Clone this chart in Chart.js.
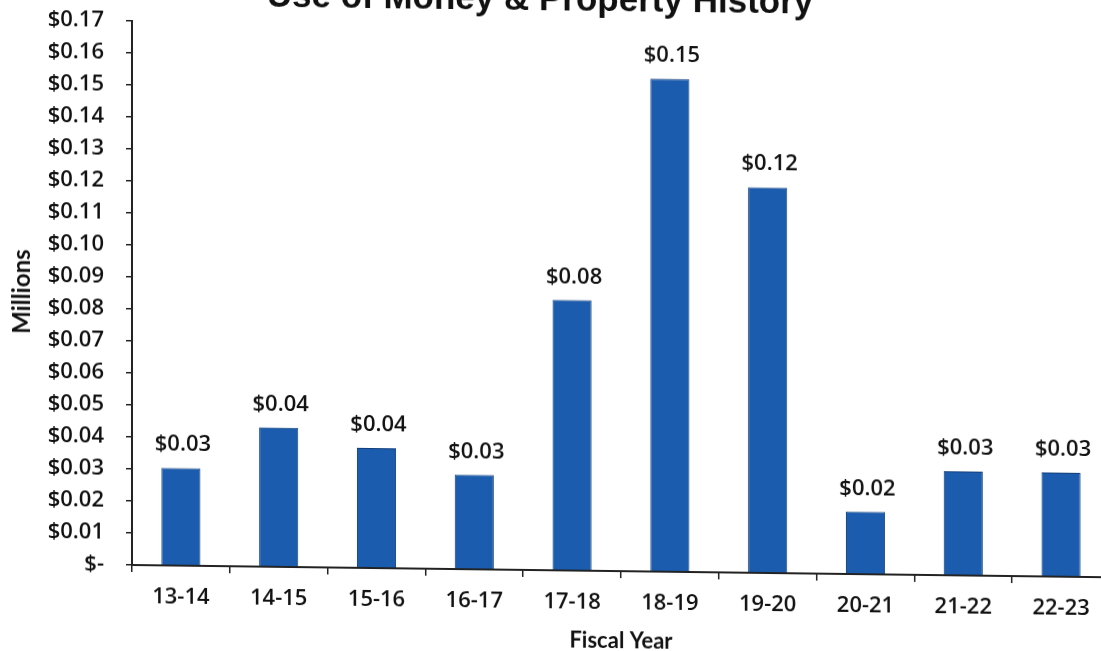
<!DOCTYPE html>
<html>
<head>
<meta charset="utf-8">
<script src="https://cdn.jsdelivr.net/npm/chart.js@4/dist/chart.umd.min.js"></script>
<style>
  html, body { margin: 0; padding: 0; background: #ffffff; overflow: hidden; width: 1101px; height: 651px; }
  #wrap {
    position: absolute; left: 0; top: -30px; width: 1120px; height: 681px;
    transform-origin: 132px 595px;
    transform: skewY(0.72deg);
  }
</style>
</head>
<body>
<div id="wrap"><canvas id="chart"></canvas></div>
<script>
// Fiscal years and amounts (in millions of dollars)
const fiscalYears = ['13-14', '14-15', '15-16', '16-17', '17-18', '18-19', '19-20', '20-21', '21-22', '22-23'];
const amounts = [0.0305, 0.0435, 0.0375, 0.0295, 0.0845, 0.154, 0.1205, 0.0195, 0.0325, 0.0325];
const chartTitle = 'Use of Money & Property History';
const yAxisTitle = 'Millions';
const xAxisTitle = 'Fiscal Year';
const yMin = 0, yMax = 0.17, yStep = 0.01;

const money = v => (Math.abs(v) < 1e-9 ? '$-' : '$' + v.toFixed(2));
const textFamily = '"Open Sans", Lato, sans-serif';

// Title drawn at the top edge of the canvas
const titlePlugin = {
  id: 'topTitle',
  afterDraw(chart) {
    const ctx = chart.ctx;
    ctx.save();
    ctx.font = 'bold 35px "Liberation Sans", Arial, sans-serif';
    ctx.fillStyle = '#111111';
    ctx.textAlign = 'center';
    ctx.textBaseline = 'alphabetic';
    ctx.fillText(chartTitle, 540, 35);
    ctx.restore();
  }
};

// Value labels above each bar
const valueLabels = {
  id: 'valueLabels',
  afterDatasetsDraw(chart) {
    const ctx = chart.ctx;
    const meta = chart.getDatasetMeta(0);
    ctx.save();
    ctx.font = '600 22px ' + textFamily;
    ctx.fillStyle = '#111111';
    ctx.textAlign = 'center';
    ctx.textBaseline = 'alphabetic';
    meta.data.forEach((bar, i) => {
      ctx.fillText(money(amounts[i]), bar.x + 2, bar.y - 17);
    });
    ctx.restore();
  }
};

new Chart(document.getElementById('chart'), {
  type: 'bar',
  data: {
    labels: fiscalYears,
    datasets: [{
      data: amounts,
      backgroundColor: '#1b5cae',
      borderColor: '#123f7a',
      borderWidth: 1,
      categoryPercentage: 1.0,
      barPercentage: 0.40
    }]
  },
  options: {
    responsive: true,
    maintainAspectRatio: false,
    animation: false,
    layout: { padding: { top: 51, right: 10, left: 0, bottom: 0 } },
    plugins: {
      legend: { display: false },
      tooltip: { enabled: false },
      title: { display: false }
    },
    scales: {
      x: {
        afterFit(scale) { scale.height = 86; },
        grid: {
          display: true,
          drawOnChartArea: false,
          drawTicks: true,
          tickLength: 7,
          color: '#222222',
          lineWidth: 1.5
        },
        border: { display: true, color: '#222222', width: 2 },
        ticks: {
          color: '#111111',
          font: { family: textFamily, size: 22, weight: '600' },
          padding: 12,
          maxRotation: 0
        },
        title: {
          display: true,
          text: xAxisTitle,
          color: '#111111',
          font: { family: 'Lato, "Open Sans", sans-serif', size: 22, weight: 'bold' },
          padding: { top: 0, bottom: 3 }
        }
      },
      y: {
        min: yMin,
        max: yMax,
        afterFit(scale) { scale.width = 132; },
        grid: {
          display: true,
          drawOnChartArea: false,
          drawTicks: true,
          tickLength: 6,
          color: '#222222',
          lineWidth: 1.5
        },
        border: { display: true, color: '#222222', width: 2 },
        ticks: {
          stepSize: yStep,
          color: '#111111',
          font: { family: textFamily, size: 22, weight: '600' },
          padding: 22,
          callback: v => money(v)
        },
        title: {
          display: true,
          text: yAxisTitle,
          color: '#111111',
          font: { family: 'Lato, "Open Sans", sans-serif', size: 24, weight: 'bold' },
          padding: { top: 8, bottom: 0 }
        }
      }
    }
  },
  plugins: [titlePlugin, valueLabels]
});
</script>
</body>
</html>
